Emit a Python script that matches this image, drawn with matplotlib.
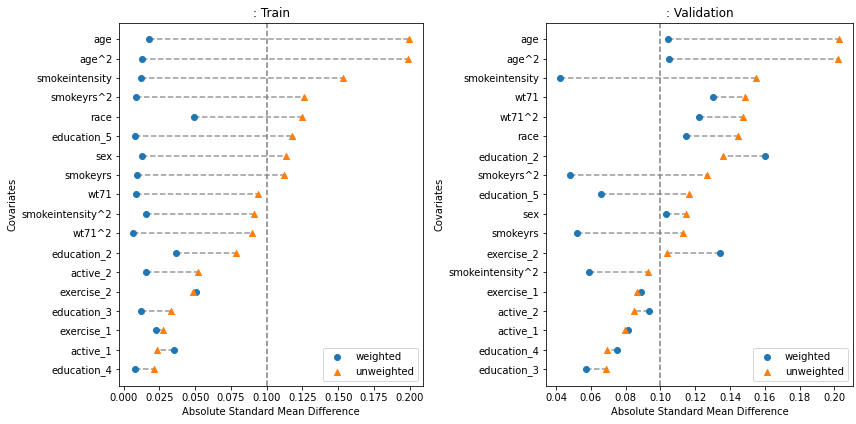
import matplotlib
matplotlib.use("Agg")
import matplotlib.pyplot as plt

train_covariates = ["age", "age^2", "smokeintensity", "smokeyrs^2", "race", "education_5",
                    "sex", "smokeyrs", "wt71", "smokeintensity^2", "wt71^2", "education_2",
                    "active_2", "exercise_2", "education_3", "exercise_1", "active_1", "education_4"]
train_weighted = [0.0176, 0.0125, 0.0118, 0.0087, 0.0495, 0.0080, 0.0125, 0.0094, 0.0087,
                  0.0153, 0.0066, 0.0369, 0.0157, 0.0505, 0.0118, 0.0227, 0.0353, 0.0076]
train_unweighted = [0.1999, 0.1990, 0.1537, 0.1260, 0.1248, 0.1174, 0.1132, 0.1122, 0.0940,
                    0.0913, 0.0901, 0.0789, 0.0523, 0.0484, 0.0334, 0.0278, 0.0236, 0.0213]

val_covariates = ["age", "age^2", "smokeintensity", "wt71", "wt71^2", "race", "education_2",
                  "smokeyrs^2", "education_5", "sex", "smokeyrs", "exercise_2", "smokeintensity^2",
                  "exercise_1", "active_2", "active_1", "education_4", "education_3"]
val_weighted = [0.1044, 0.1050, 0.0424, 0.1302, 0.1224, 0.1149, 0.1602, 0.0478, 0.0661,
                0.1033, 0.0522, 0.1342, 0.0588, 0.0888, 0.0934, 0.0814, 0.0750, 0.0574]
val_unweighted = [0.2025, 0.2019, 0.1549, 0.1486, 0.1474, 0.1445, 0.1358, 0.1265, 0.1166,
                  0.1149, 0.1128, 0.1039, 0.0928, 0.0867, 0.0847, 0.0797, 0.0692, 0.0685]

threshold = 0.1

W, H = 856, 424
fig = plt.figure(figsize=(W / 72, H / 72), dpi=72)
ax1 = fig.add_axes([119.3 / W, 38.3 / H, 304 / W, 363 / H])
ax2 = fig.add_axes([546.3 / W, 38.3 / H, 306.4 / W, 363 / H])

def draw(ax, covs, w, u, title):
    n = len(covs)
    ys = list(range(n))[::-1]
    ax.hlines(ys, w, u, colors="grey", linestyles="dashed", alpha=0.8, linewidth=1.5, zorder=1)
    ax.scatter(w, ys, marker="o", color="#1f77b4", label="weighted", zorder=3)
    ax.scatter(u, ys, marker="^", color="#ff7f0e", label="unweighted", zorder=3)
    ax.axvline(threshold, color="grey", linestyle="--", linewidth=1.5, zorder=0)
    ax.set_yticks(ys)
    ax.set_yticklabels(covs)
    ax.set_ylim(-0.85, n - 1 + 0.85)
    ax.set_xlabel("Absolute Standard Mean Difference")
    ax.set_ylabel("Covariates")
    ax.set_title(title)
    ax.legend(loc="lower right")

draw(ax1, train_covariates, train_weighted, train_unweighted, ": Train")
draw(ax2, val_covariates, val_weighted, val_unweighted, ": Validation")
ax1.set_xticks([0.0, 0.025, 0.05, 0.075, 0.1, 0.125, 0.15, 0.175, 0.2])
ax1.set_xticklabels(["0.000", "0.025", "0.050", "0.075", "0.100", "0.125", "0.150", "0.175", "0.200"])
ax2.set_xticks([0.04, 0.06, 0.08, 0.10, 0.12, 0.14, 0.16, 0.18, 0.20])
ax2.set_xticklabels(["0.04", "0.06", "0.08", "0.10", "0.12", "0.14", "0.16", "0.18", "0.20"])

fig.savefig("out.png", dpi=72, facecolor="white")
